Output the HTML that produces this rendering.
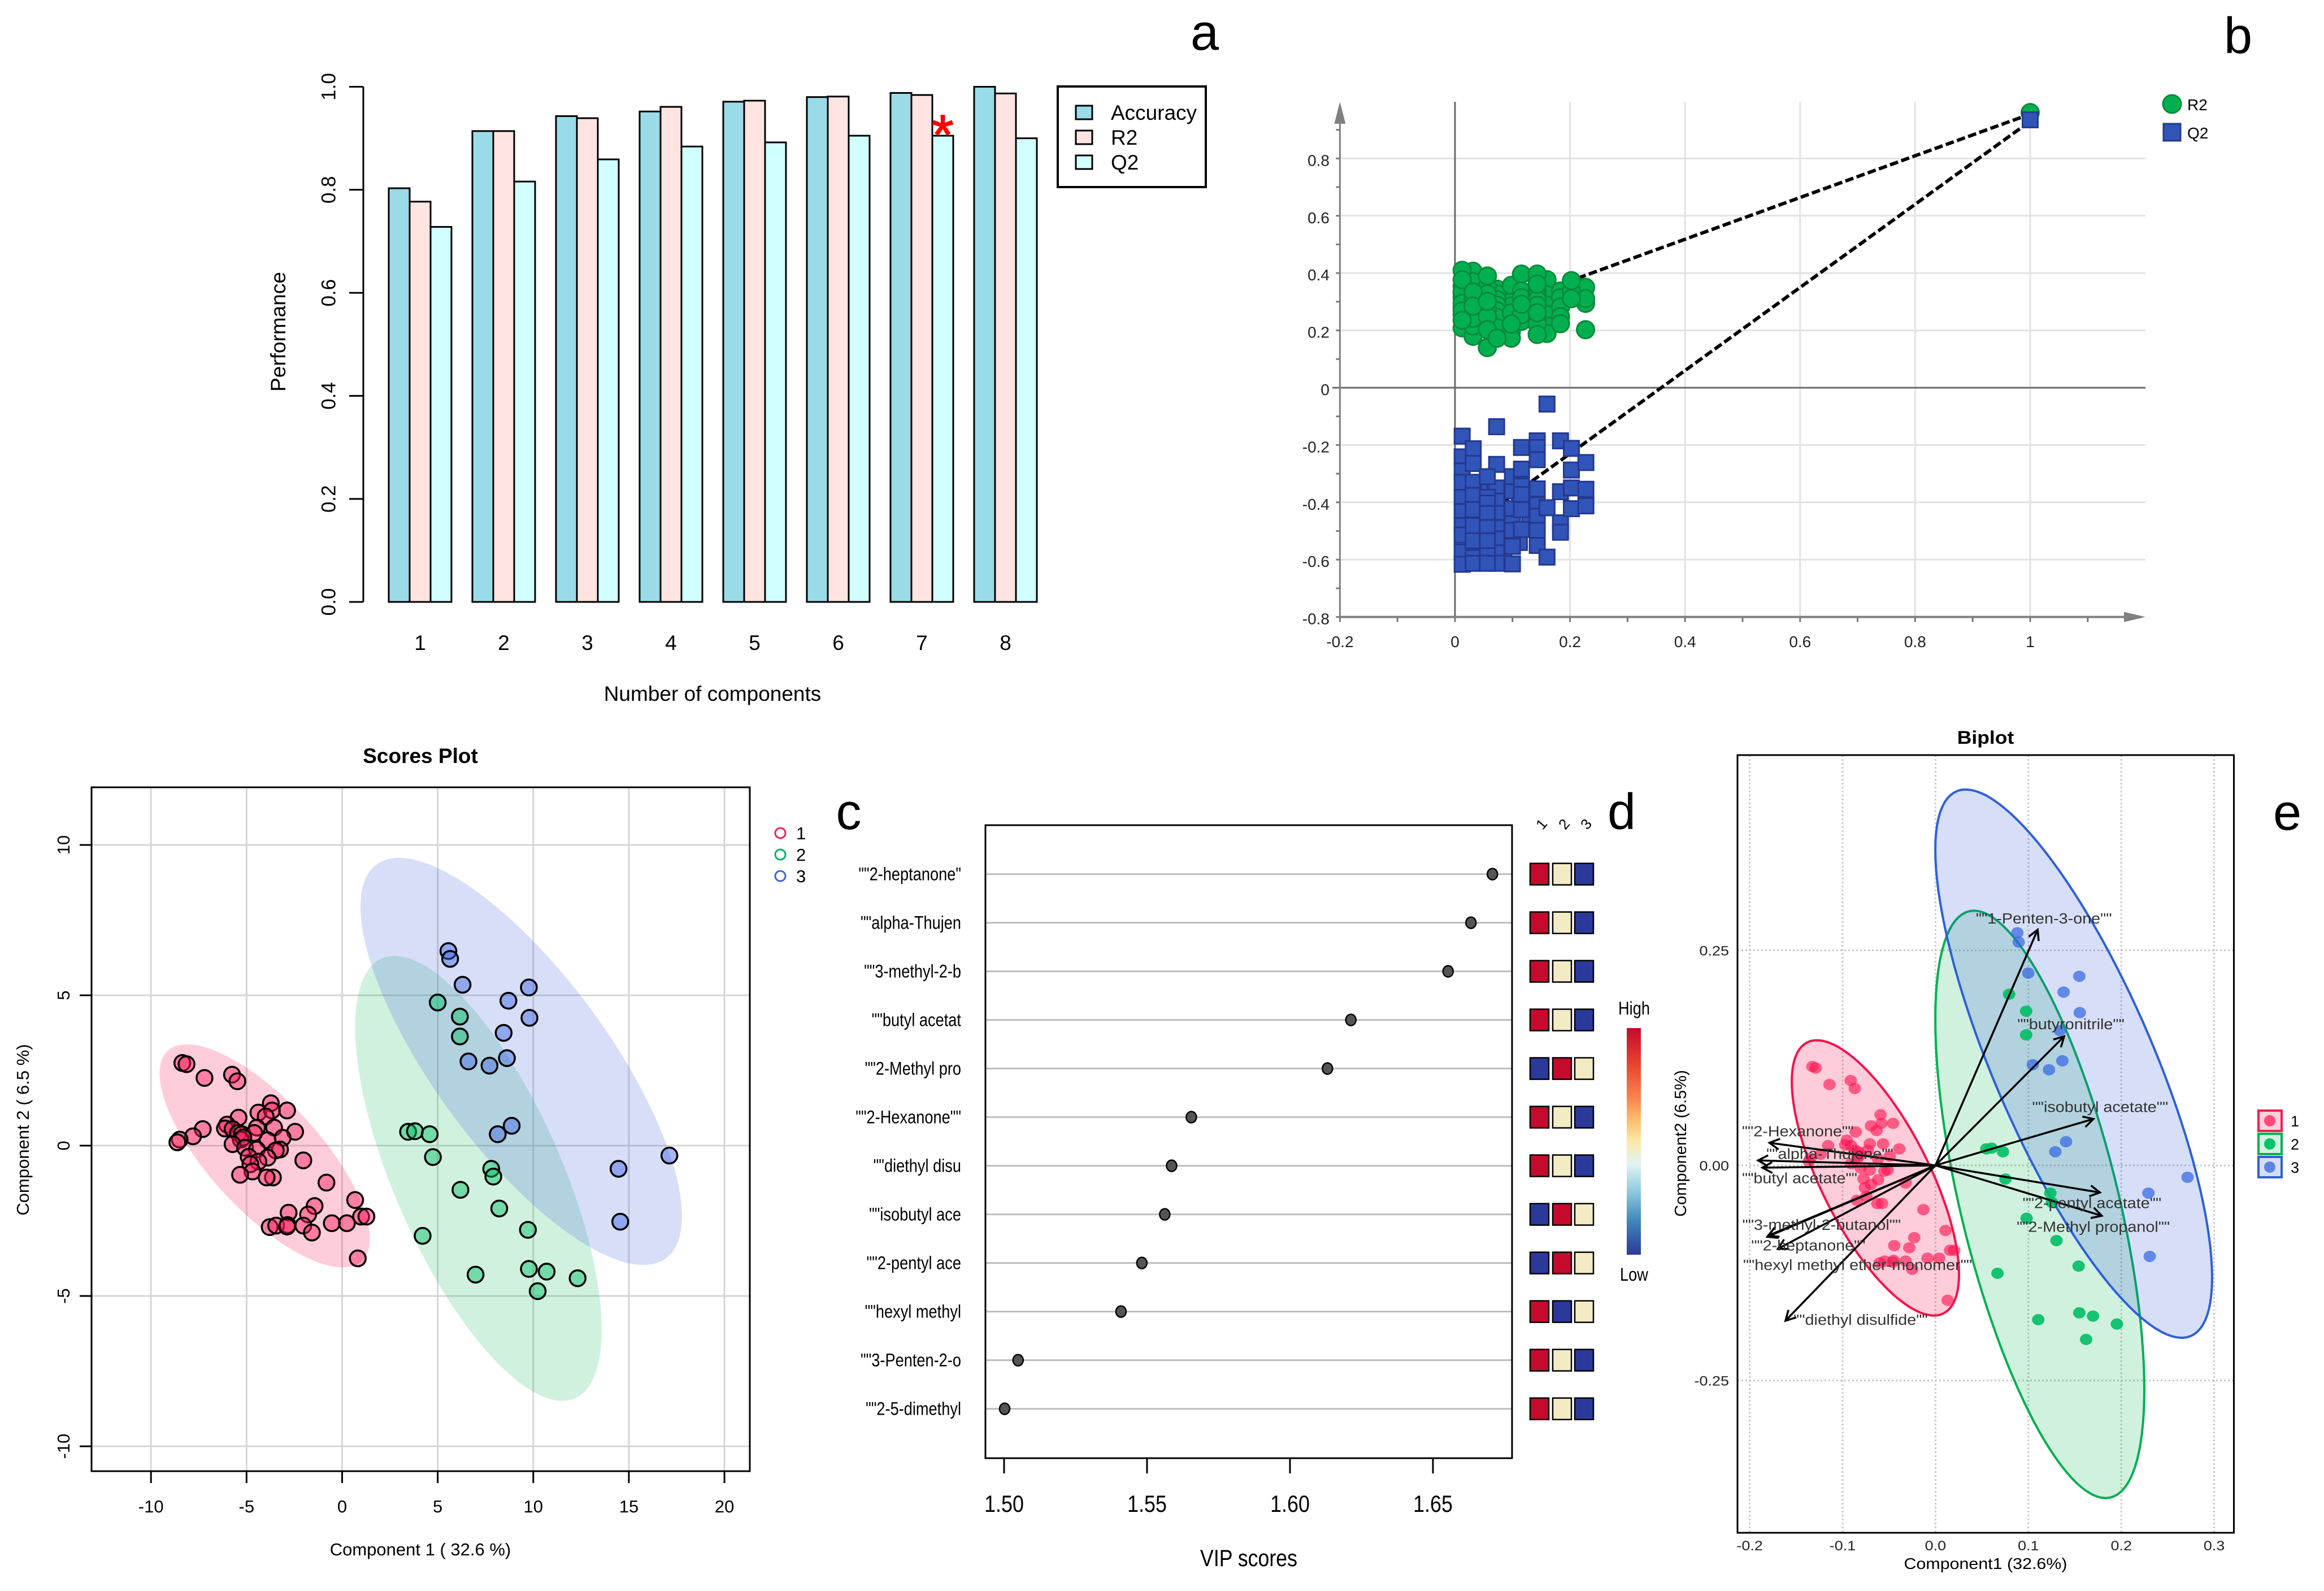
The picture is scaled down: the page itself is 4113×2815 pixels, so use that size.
<!DOCTYPE html>
<html><head><meta charset="utf-8"><title>Multi-panel PLS-DA figure</title>
<style>
html,body{margin:0;padding:0;background:#fff}
svg{display:block}
text{font-family:"Liberation Sans",sans-serif;fill:#000}
</style></head>
<body>
<svg id="fig" xmlns="http://www.w3.org/2000/svg" width="4113" height="2815" viewBox="0 0 4113 2815">
<rect x="0" y="0" width="4113" height="2815" fill="#fff"/>
<g id="pa">
<text x="2132" y="88" font-size="90" text-anchor="middle">a</text>
<text x="1261" y="1240" font-size="37" text-anchor="middle">Number of components</text>
<text x="492" y="587" dy="13" font-size="37" text-anchor="middle" transform="rotate(-90 492 587)">Performance</text>
<rect x="1872" y="153" width="262" height="178" fill="#fff" stroke="#000" stroke-width="4"/>
<rect x="1904" y="187" width="29" height="24" fill="#9ADBE8" stroke="#000" stroke-width="3"/>
<rect x="1904" y="231" width="29" height="24" fill="#FFE4E1" stroke="#000" stroke-width="3"/>
<rect x="1904" y="275" width="29" height="24" fill="#D1FFFF" stroke="#000" stroke-width="3"/>
<text x="1966" y="212" font-size="37">Accuracy</text>
<text x="1966" y="256" font-size="37">R2</text>
<text x="1966" y="300" font-size="37">Q2</text>
</g>
<g id="pb">
<text x="3961" y="94" font-size="90" text-anchor="middle">b</text>
<circle cx="3844" cy="184" r="16" fill="#00B050" stroke="#0A8A3A" stroke-width="3"/>
<rect x="3829" y="219" width="30" height="30" fill="#3154B8" stroke="#24398F" stroke-width="3"/>
<text x="3871" y="195" font-size="28" fill="#222">R2</text>
<text x="3871" y="245" font-size="28" fill="#222">Q2</text>
</g>
<g id="pc">
<text x="744" y="1350" font-size="37" font-weight="bold" text-anchor="middle">Scores Plot</text>
<text x="744" y="2752" font-size="31" text-anchor="middle">Component 1 ( 32.6 %)</text>
<text x="40" y="1999" dy="11" font-size="31" text-anchor="middle" transform="rotate(-90 40 1999)">Component 2 ( 6.5 %)</text>
<circle cx="1381" cy="1474" r="9" fill="none" stroke="#F0204F" stroke-width="3"/>
<circle cx="1381" cy="1512" r="9" fill="none" stroke="#00B060" stroke-width="3"/>
<circle cx="1381" cy="1550" r="9" fill="none" stroke="#3B64D8" stroke-width="3"/>
<text x="1409" y="1485" font-size="31">1</text>
<text x="1409" y="1523" font-size="31">2</text>
<text x="1409" y="1561" font-size="31">3</text>
</g>
<g id="pd">
<text x="1502" y="1467" font-size="90" text-anchor="middle">c</text>
<text x="2870" y="1467" font-size="90" text-anchor="middle">d</text>
<text transform="translate(2210 2771) scale(.85 1)" font-size="42" text-anchor="middle">VIP scores</text>
<defs><linearGradient id="cbar" x1="0" y1="0" x2="0" y2="1">
<stop offset="0" stop-color="#C60A2E"/><stop offset=".15" stop-color="#E8402F"/><stop offset=".3" stop-color="#F9804A"/><stop offset=".42" stop-color="#FDC574"/><stop offset=".5" stop-color="#FCE8A8"/><stop offset=".6" stop-color="#E0F3F4"/><stop offset=".72" stop-color="#90CADF"/><stop offset=".85" stop-color="#3F87BC"/><stop offset="1" stop-color="#2B3A9A"/>
</linearGradient></defs>
<rect x="2879" y="1819" width="25" height="401" fill="url(#cbar)"/>
<text transform="translate(2892 1795) scale(.85 1)" font-size="32" text-anchor="middle">High</text>
<text transform="translate(2892 2266) scale(.85 1)" font-size="32" text-anchor="middle">Low</text>
</g>
<g id="pe">
<text x="4048" y="1468" font-size="90" text-anchor="middle">e</text>
<text transform="translate(3514 1316) scale(1.11 1)" font-size="32" font-weight="bold" text-anchor="middle">Biplot</text>
<text transform="translate(3514 2776) scale(1.11 1)" font-size="27.4" text-anchor="middle">Component1 (32.6%)</text>
<text x="2974" y="2023" dy="10" font-size="29" text-anchor="middle" transform="rotate(-90 2974 2023)">Component2 (6.5%)</text>
<rect x="3997" y="1965" width="41" height="36" fill="#FFD0DC" stroke="#F0204F" stroke-width="4"/>
<rect x="3997" y="2006" width="41" height="36" fill="#D1F1DF" stroke="#00B050" stroke-width="4"/>
<rect x="3997" y="2047" width="41" height="36" fill="#D6DEF8" stroke="#2F5FD8" stroke-width="4"/>
<circle cx="4017" cy="1983" r="10" fill="#FF4A78"/>
<circle cx="4017" cy="2024" r="10" fill="#00C468"/>
<circle cx="4017" cy="2065" r="10" fill="#5F84E4"/>
<text x="4054" y="1993" font-size="27">1</text>
<text x="4054" y="2034" font-size="27">2</text>
<text x="4054" y="2075" font-size="27">3</text>
</g>
</svg>
<script>
// ---------- panel a data
const perfCategories = [1,2,3,4,5,6,7,8];
const accuracyValues = [0.803,0.914,0.943,0.952,0.971,0.980,0.988,1.000];
const r2Values = [0.777,0.914,0.939,0.961,0.973,0.981,0.984,0.987];
const q2Values = [0.728,0.816,0.859,0.884,0.892,0.905,0.905,0.900];
const perfTickLabels = ['0.0','0.2','0.4','0.6','0.8','1.0'];
const bestComponentIndex = 6;
// ---------- panel b data
const r2PermX = [0.0314,0.0314,0.0563,0.0563,0.085,0.085,0.085,0.098,0.098,0.12,0.125,0.13,0.0125,0.17,0.17,0.15,0.0125,0.045,0.045,0.0125,0.0125,0.0125,0.0125,0.0125,0.0125,0.0314,0.0314,0.0314,0.0314,0.0314,0.0314,0.0314,0.073,0.073,0.073,0.073,0.073,0.073,0.073,0.073,0.0563,0.0563,0.0563,0.0563,0.0563,0.0563,0.098,0.098,0.098,0.098,0.1156,0.1156,0.1156,0.1156,0.1156,0.16,0.16,0.16,0.16,0.16,0.16,0.143,0.143,0.143,0.143,0.143,0.143,0.143,0.1833,0.1833,0.1833,0.1833,0.1833,0.227,0.227,0.227,0.227,0.2024,0.2024,0.2024,0.143,0.143,0.143,0.1156,0.0125,0.0125,0.0125,0.0125,0.0314,0.0314,0.0563,0.0563,0.073,0.098];
const r2PermY = [0.30,0.22,0.34,0.29,0.28,0.32,0.24,0.30,0.285,0.27,0.30,0.24,0.33,0.29,0.24,0.29,0.28,0.34,0.27,0.3537,0.3143,0.2551,0.209,0.334,0.2945,0.4063,0.3701,0.3143,0.2617,0.1795,0.2156,0.2419,0.3438,0.3274,0.3077,0.288,0.2682,0.2452,0.209,0.1729,0.3537,0.2748,0.2485,0.2025,0.14,0.3274,0.357,0.2617,0.1959,0.1729,0.3964,0.3373,0.3143,0.2321,0.2551,0.3767,0.3241,0.288,0.2551,0.2156,0.1893,0.3964,0.3373,0.3208,0.3077,0.288,0.2354,0.2222,0.3373,0.3143,0.2814,0.2485,0.2235,0.3504,0.2945,0.311,0.2025,0.3373,0.3734,0.311,0.3616,0.2617,0.186,0.2912,0.4096,0.3767,0.2682,0.2354,0.334,0.2847,0.3899,0.3011,0.1729,0.2222];
const q2PermX = [0.085,0.085,0.085,0.085,0.043,0.043,0.043,0.043,0.112,0.112,0.13,0.13,0.160,0.0125,0.0125,0.0125,0.0125,0.0125,0.0125,0.0125,0.0125,0.0125,0.0125,0.0317,0.0317,0.0317,0.0317,0.0317,0.0317,0.0317,0.0317,0.0317,0.0724,0.0724,0.0724,0.0724,0.0724,0.0724,0.0724,0.0724,0.0724,0.0563,0.0563,0.0563,0.0563,0.0563,0.0563,0.0563,0.0563,0.0999,0.0999,0.0999,0.0999,0.0999,0.0999,0.0999,0.1156,0.1156,0.1156,0.1156,0.1156,0.1156,0.143,0.143,0.143,0.143,0.143,0.143,0.143,0.143,0.160,0.160,0.1834,0.1834,0.1834,0.1834,0.2024,0.2024,0.2024,0.2024,0.2276,0.2276,0.2276];
const q2PermY = [-0.36,-0.44,-0.52,-0.60,-0.36,-0.46,-0.54,-0.61,-0.40,-0.54,-0.39,-0.47,-0.057,-0.169,-0.2413,-0.2906,-0.3301,-0.3827,-0.432,-0.4813,-0.5142,-0.5733,-0.6161,-0.213,-0.2643,-0.3301,-0.3761,-0.4254,-0.4813,-0.5339,-0.5931,-0.6128,-0.1361,-0.2676,-0.3498,-0.3958,-0.4386,-0.4879,-0.5273,-0.5766,-0.6128,-0.3827,-0.4024,-0.4386,-0.4879,-0.5339,-0.5865,-0.6128,-0.3104,-0.3597,-0.4221,-0.4747,-0.4978,-0.5536,-0.6148,-0.3104,-0.2085,-0.2841,-0.3432,-0.3728,-0.4254,-0.4945,-0.1854,-0.2085,-0.2512,-0.3531,-0.409,-0.4484,-0.4978,-0.5503,-0.5911,-0.4189,-0.1854,-0.363,-0.4714,-0.5043,-0.2117,-0.2873,-0.3498,-0.4221,-0.2611,-0.3544,-0.4123];
const r2TrueX = [1]; const r2TrueY = [0.96];
const q2TrueX = [1]; const q2TrueY = [0.935];
const r2LineX = [0,1]; const r2LineY = [0.227,0.955];
const q2LineX = [0,1]; const q2LineY = [-0.52,0.93];
const permXTicks = [-0.2,0,0.2,0.4,0.6,0.8,1];
const permXTickLabels = ['-0.2','0','0.2','0.4','0.6','0.8','1'];
const permYTicks = [-0.8,-0.6,-0.4,-0.2,0,0.2,0.4,0.6,0.8];
const permYTickLabels = ['-0.8','-0.6','-0.4','-0.2','0','0.2','0.4','0.6','0.8'];
// ---------- scores data (also drawn, rescaled, on the biplot)
const group1X = [-8.36,-8.14,-7.2,-5.76,-5.48,-3.73,-4.38,-3.67,-2.88,-4.0,-5.42,-6.02,-4.46,-3.56,-6.13,-5.73,-5.45,-5.25,-4.6,-2.46,-3.11,-3.9,-5.3,-5.17,-5.73,-7.29,-7.8,-8.5,-8.62,-5.08,-3.25,-3.47,-4.46,-4.89,-3.9,-4.38,-4.8,-2.03,-4.69,-5.34,-3.62,-3.95,-0.82,0.68,-1.44,-2.8,-1.78,0.99,1.27,0.25,-0.54,-3.79,-3.45,-2.85,-2.88,-2.03,-1.58,0.82];
const group1Y = [2.75,2.71,2.25,2.36,2.14,1.41,1.1,1.17,1.17,0.97,0.93,0.7,0.6,0.6,0.57,0.55,0.42,0.38,0.42,0.46,0.26,0.18,0.2,0.27,0.05,0.55,0.31,0.2,0.11,-0.07,-0.13,-0.16,-0.13,-0.37,-0.4,-0.53,-0.62,-0.49,-0.86,-0.97,-1.06,-1.06,-1.23,-1.81,-2.01,-2.23,-2.29,-2.36,-2.36,-2.58,-2.58,-2.71,-2.66,-2.64,-2.69,-2.66,-2.89,-3.75];
const group2X = [5.0,6.16,6.16,3.45,3.81,4.58,4.75,7.8,7.91,6.19,8.22,9.72,4.21,9.77,10.7,6.98,12.32,10.23];
const group2Y = [4.76,4.29,3.63,0.46,0.48,0.38,-0.38,-0.77,-1.03,-1.47,-2.09,-2.8,-3.0,-4.1,-4.19,-4.29,-4.41,-4.84];
const group3X = [5.56,5.65,6.3,9.77,8.7,9.8,8.45,8.62,6.61,7.71,8.87,8.14,17.12,14.46,14.55];
const group3Y = [6.47,6.21,5.35,5.26,4.82,4.25,3.75,2.91,2.8,2.66,0.66,0.38,-0.33,-0.77,-2.53];
const scoreXTicks = [-10,-5,0,5,10,15,20];
const scoreYTicks = [-10,-5,0,5,10];
const scoreEllipseCx = [-4.05,7.13,9.37];
const scoreEllipseCy = [-0.34,-1.09,2.8];
const scoreEllipseA = [5.5,6.45,8.41];
const scoreEllipseB = [3.71,7.4,6.77];
const scoreEllipseRho = [-0.74,-0.68,-0.76];
// ---------- VIP data
const vipNames = ['""2-heptanone"','""alpha-Thujen','""3-methyl-2-b','""butyl acetat','""2-Methyl pro','""2-Hexanone""','""diethyl disu','""isobutyl ace','""2-pentyl ace','""hexyl methyl','""3-Penten-2-o','""2-5-dimethyl'];
const vipScores = [1.6708,1.6633,1.6553,1.6213,1.6131,1.5655,1.5586,1.5562,1.5482,1.5409,1.5049,1.5002];
const vipTicks = [1.50,1.55,1.60,1.65];
const heatGroup1 = [1,1,1,1,-1,1,1,-1,-1,1,1,1];
const heatGroup2 = [0,0,0,0,1,0,0,1,1,-1,0,0];
const heatGroup3 = [-1,-1,-1,-1,0,-1,-1,0,0,0,-1,-1];
const heatColumns = ['1','2','3'];
// ---------- biplot data
const biScoreScaleX = 0.01585;
const biScoreScaleY = 0.0418;
const biXTicks = [-0.2,-0.1,0,0.1,0.2,0.3];
const biXTickLabels = ['-0.2','-0.1','0.0','0.1','0.2','0.3'];
const biYTicks = [-0.25,0,0.25];
const biYTickLabels = ['-0.25','0.00','0.25'];
const loadingNames = ['""1-Penten-3-one""','""butyronitrile""','""isobutyl acetate""','""2-pentyl acetate""','""2-Methyl propanol""','""2-Hexanone""','""alpha-Thujene""','""butyl acetate""','""3-methyl-2-butanol""','""2-heptanone""','""hexyl methyl ether-monomer""','""diethyl disulfide""'];
const loadingX = [0.110,0.1385,0.170,0.177,0.179,-0.1787,-0.191,-0.1864,-0.181,-0.1697,-0.180,-0.1615];
const loadingY = [0.274,0.150,0.054,-0.0315,-0.0585,0.0263,0.0058,-0.0026,-0.083,-0.097,-0.0816,-0.1806];
const biEllipseCx = [-0.0647,0.1123,0.1488];
const biEllipseCy = [-0.0145,-0.0453,0.1183];
const biEllipseA = [0.09,0.1125,0.149];
const biEllipseB = [0.16,0.3414,0.3187];
const biEllipseRho = [-0.70,-0.63,-0.78];

const NS = 'http://www.w3.org/2000/svg';
function mk(parent, tag, attrs, txt) {
  const e = document.createElementNS(NS, tag);
  for (const k in attrs) e.setAttribute(k, attrs[k]);
  if (txt !== undefined) e.textContent = txt;
  parent.appendChild(e);
  return e;
}
function ellipsePath(cx, cy, a, b, rho, fx, fy) {
  let d = '';
  const s = Math.sqrt(1 - rho * rho);
  for (let t = 0; t < 360; t += 3) {
    const r = t * Math.PI / 180;
    const px = fx(cx + a * Math.cos(r));
    const py = fy(cy + b * (rho * Math.cos(r) + s * Math.sin(r)));
    d += (t ? 'L' : 'M') + px.toFixed(1) + ' ' + py.toFixed(1);
  }
  return d + 'Z';
}
function squeeze(x, y, s) {
  return 'translate(' + x + ' ' + y + ') scale(' + s + ' 1)';
}

// ================= PANEL A
(function () {
  const g = document.getElementById('pa');
  const y = v => 1065 - v * 911.5;
  const groupX = i => 688 + i * 148;
  const barW = 37;
  const axis = mk(g, 'line', {x1: 643, x2: 643, y1: y(0), y2: y(1), stroke: '#000', 'stroke-width': 3});
  
  
  perfTickLabels.forEach(function (lab) {
    const v = parseFloat(lab);
    const t = mk(g, 'line', {x1: 618, x2: 643, y1: y(v), y2: y(v), stroke: '#000', 'stroke-width': 3});
    
    
    const l = mk(g, 'text', {x: 581, y: y(v), dy: 12.5, 'font-size': 35, 'text-anchor': 'middle', transform: 'rotate(-90 581 ' + y(v) + ')'}, lab);
    
    
  });
  const series = [[accuracyValues, '#9ADBE8', 'accuracy'], [r2Values, '#FFE4E1', 'r2'], [q2Values, '#D1FFFF', 'q2']];
  perfCategories.forEach(function (c, i) {
    series.forEach(function (s, j) {
      const v = s[0][i];
      const b = mk(g, 'rect', {x: groupX(i) + j * barW, y: y(v), width: barW, height: y(0) - y(v), fill: s[1], stroke: '#000', 'stroke-width': 3});
      
      
    });
    const l = mk(g, 'text', {x: groupX(i) + 1.5 * barW, y: 1150, 'font-size': 37, 'text-anchor': 'middle'}, c);
    
    
  });
  const star = mk(g, 'text', {x: groupX(bestComponentIndex) + 2.5 * barW, y: y(q2Values[bestComponentIndex]) + 33, 'font-size': 100, 'text-anchor': 'middle', style: 'fill:#f00;stroke:#f00;stroke-width:1.5'}, '*');
  
  
})();

// ================= PANEL B
(function () {
  const g = document.getElementById('pb');
  const x = v => 2575 + 1018 * v;
  const y = v => 686 - 507 * v;
  const xL = x(-0.2), xR = 3797, yB = y(-0.8), yT = 180;
  permYTicks.forEach(function (v, i) {
    if (v !== 0 && v !== -0.8) {
      const gl = mk(g, 'line', {x1: xL, x2: xR, y1: y(v), y2: y(v), stroke: '#E2E2E2', 'stroke-width': 3});
      
      
    }
    const l = mk(g, 'text', {x: 2353, y: y(v) + 13, 'font-size': 28, 'text-anchor': 'end', style: 'fill:#222'}, permYTickLabels[i]);
    
    
  });
  permXTicks.forEach(function (v, i) {
    if (v > 0) {
      const gl = mk(g, 'line', {x1: x(v), x2: x(v), y1: yT, y2: yB, stroke: '#E2E2E2', 'stroke-width': 3});
      
      
    }
    const l = mk(g, 'text', {x: x(v), y: 1145, 'font-size': 28, 'text-anchor': 'middle', style: 'fill:#222'}, permXTickLabels[i]);
    
    
  });
  for (let k = 0; k < 18; k++) {
    const v = -0.8 + k * 0.1;
    const t = mk(g, 'line', {x1: xL - 7, x2: xL, y1: y(v), y2: y(v), stroke: '#777', 'stroke-width': 3});
    
    
  }
  for (let k = 0; k < 14; k++) {
    const v = -0.2 + k * 0.1;
    const t = mk(g, 'line', {x1: x(v), x2: x(v), y1: yB, y2: yB + 9, stroke: '#777', 'stroke-width': 3});
    
    
  }
  const z1 = mk(g, 'line', {x1: x(0), x2: x(0), y1: yT, y2: yB, stroke: '#6A6A6A', 'stroke-width': 3});
  
  
  const z2 = mk(g, 'line', {x1: 2358, x2: xR, y1: y(0), y2: y(0), stroke: '#6A6A6A', 'stroke-width': 3});
  
  
  const a1 = mk(g, 'line', {x1: xL, x2: xL, y1: 215, y2: yB, stroke: '#808080', 'stroke-width': 3});
  
  
  const a2 = mk(g, 'line', {x1: xL, x2: 3765, y1: yB, y2: yB, stroke: '#808080', 'stroke-width': 4});
  
  
  const h1 = mk(g, 'polygon', {points: xL + ',180 ' + (xL + 10) + ',219 ' + (xL - 10) + ',219', fill: '#808080'});
  
  
  const h2 = mk(g, 'polygon', {points: '3797,' + yB + ' 3759,' + (yB - 9) + ' 3759,' + (yB + 9), fill: '#808080'});
  
  
  const l1 = mk(g, 'line', {x1: x(r2LineX[0]), x2: x(r2LineX[1]), y1: y(r2LineY[0]), y2: y(r2LineY[1]), stroke: '#000', 'stroke-width': 6, 'stroke-dasharray': '15 6'});
  
  
  const l2 = mk(g, 'line', {x1: x(q2LineX[0]), x2: x(q2LineX[1]), y1: y(q2LineY[0]), y2: y(q2LineY[1]), stroke: '#000', 'stroke-width': 6, 'stroke-dasharray': '15 6'});
  
  
  r2PermX.concat(r2TrueX).forEach(function (v, i) {
    const w = i < r2PermX.length ? r2PermY[i] : r2TrueY[0];
    const c = mk(g, 'circle', {cx: x(v), cy: y(w), r: 15.5, fill: '#00B050', stroke: '#0A8A3A', 'stroke-width': 3});
    
    
  });
  q2PermX.concat(q2TrueX).forEach(function (v, i) {
    const w = i < q2PermX.length ? q2PermY[i] : q2TrueY[0];
    const c = mk(g, 'rect', {x: x(v) - 13.5, y: y(w) - 13.5, width: 27, height: 27, fill: '#3154B8', stroke: '#24398F', 'stroke-width': 3});
    
    
  });
})();

// ================= PANEL C (scores)
(function () {
  const g = document.getElementById('pc');
  const x = v => 605.5 + 33.83 * v;
  const y = v => 2027 - 53.2 * v;
  const L = 162, R = 1327, T = 1393, B = 2603;
  scoreXTicks.forEach(function (v) {
    const gl = mk(g, 'line', {x1: x(v), x2: x(v), y1: T, y2: B, stroke: '#D6D6D6', 'stroke-width': 3});
    
    
    const t = mk(g, 'line', {x1: x(v), x2: x(v), y1: B, y2: B + 21, stroke: '#000', 'stroke-width': 3});
    
    
    const l = mk(g, 'text', {x: x(v), y: 2676, 'font-size': 31, 'text-anchor': 'middle'}, v);
    
    
  });
  scoreYTicks.forEach(function (v) {
    const gl = mk(g, 'line', {x1: L, x2: R, y1: y(v), y2: y(v), stroke: '#D6D6D6', 'stroke-width': 3});
    
    
    const t = mk(g, 'line', {x1: L - 21, x2: L, y1: y(v), y2: y(v), stroke: '#000', 'stroke-width': 3});
    
    
    const l = mk(g, 'text', {x: 112, y: y(v), dy: 11, 'font-size': 31, 'text-anchor': 'middle', transform: 'rotate(-90 112 ' + y(v) + ')'}, v);
    
    
  });
  const fills = ['rgba(255,0,70,0.2)', 'rgba(0,176,80,0.18)', 'rgba(50,90,220,0.2)'];
  [0, 1, 2].forEach(function (i) {
    const e = mk(g, 'path', {d: ellipsePath(scoreEllipseCx[i], scoreEllipseCy[i], scoreEllipseA[i], scoreEllipseB[i], scoreEllipseRho[i], x, y), fill: fills[i]});
    
    
  });
  const sets = [[group1X, group1Y, 'rgba(255,30,90,0.45)', '1'], [group2X, group2Y, 'rgba(0,190,100,0.45)', '2'], [group3X, group3Y, 'rgba(60,100,225,0.45)', '3']];
  sets.forEach(function (s) {
    s[0].forEach(function (v, i) {
      const c = mk(g, 'circle', {cx: x(v), cy: y(s[1][i]), r: 14, fill: s[2], stroke: '#000', 'stroke-width': 3.5});
      
      
    });
  });
  const box = mk(g, 'rect', {x: L, y: T, width: R - L, height: B - T, fill: 'none', stroke: '#000', 'stroke-width': 3});
  
  
})();

// ================= PANEL C/D (VIP + heat cells)
(function () {
  const g = document.getElementById('pd');
  const x = v => 1777 + 5060 * (v - 1.5);
  const band = i => 1546.6 + i * 86;
  const L = 1744, R = 2676, T = 1460, B = 2580;
  const heatColor = v => v > 0 ? '#C60A2E' : (v < 0 ? '#2B3A9A' : '#F3EBC4');
  const colX = [2708, 2748, 2787];
  const heatCols = [heatGroup1, heatGroup2, heatGroup3];
  vipNames.forEach(function (name, i) {
    const ln = mk(g, 'line', {x1: L, x2: R, y1: band(i), y2: band(i), stroke: '#BDBDBD', 'stroke-width': 3});
    
    
    const d = mk(g, 'ellipse', {cx: x(vipScores[i]), cy: band(i), rx: 9, ry: 10, fill: '#555', stroke: '#000', 'stroke-width': 2.5});
    
    
    const l = mk(g, 'text', {'font-size': 32, 'text-anchor': 'end', transform: squeeze(1701, band(i) + 11, 0.85)}, name);
    
    
    heatCols.forEach(function (col, j) {
      const r = mk(g, 'rect', {x: colX[j], y: band(i) - 19, width: 33, height: 38, fill: heatColor(col[i]), stroke: '#000', 'stroke-width': 2.5});
      
      
    });
  });
  heatColumns.forEach(function (c, j) {
    const cx = colX[j] + 20, cy = 1458;
    const t = mk(g, 'text', {x: cx, y: cy, dy: 9, 'font-size': 26, 'text-anchor': 'middle', transform: 'rotate(-50 ' + cx + ' ' + cy + ')'}, c);
    
    
  });
  vipTicks.forEach(function (v) {
    const t = mk(g, 'line', {x1: x(v), x2: x(v), y1: B, y2: B + 27, stroke: '#000', 'stroke-width': 3});
    
    
    const l = mk(g, 'text', {'font-size': 42, 'text-anchor': 'middle', transform: squeeze(x(v), 2675, 0.855)}, v.toFixed(2));
    
    
  });
  const box = mk(g, 'rect', {x: L, y: T, width: R - L, height: B - T, fill: 'none', stroke: '#000', 'stroke-width': 3});
  
  
})();

// ================= PANEL E (biplot)
(function () {
  const g = document.getElementById('pe');
  const x = v => 3425.4 + 1644 * v;
  const y = v => 2062 - 1522 * v;
  const L = 3075, R = 3953.5, T = 1336, B = 2712;
  biXTicks.forEach(function (v, i) {
    const gl = mk(g, 'line', {x1: x(v), x2: x(v), y1: T, y2: B, stroke: '#C8C8C8', 'stroke-width': 3, 'stroke-dasharray': '3 4'});
    
    
    const l = mk(g, 'text', {'font-size': 24.5, 'text-anchor': 'middle', style: 'fill:#222', transform: squeeze(x(v), 2743, 1.1)}, biXTickLabels[i]);
    
    
  });
  biYTicks.forEach(function (v, i) {
    const gl = mk(g, 'line', {x1: L, x2: R, y1: y(v), y2: y(v), stroke: '#C8C8C8', 'stroke-width': 3, 'stroke-dasharray': '3 4'});
    
    
    const l = mk(g, 'text', {'font-size': 24.5, 'text-anchor': 'end', style: 'fill:#222', transform: squeeze(3060, y(v) + 9, 1.1)}, biYTickLabels[i]);
    
    
  });
  const fills = ['rgba(255,0,70,0.2)', 'rgba(0,176,80,0.18)', 'rgba(50,90,220,0.2)'];
  const strokes = ['#F5124A', '#00B050', '#2F5FD8'];
  [0, 1, 2].forEach(function (i) {
    const e = mk(g, 'path', {d: ellipsePath(biEllipseCx[i], biEllipseCy[i], biEllipseA[i], biEllipseB[i], biEllipseRho[i], x, y), fill: fills[i], stroke: strokes[i], 'stroke-width': 4});
    
    
  });
  const sets = [[group1X, group1Y, 'rgba(255,20,80,0.62)', '1'], [group2X, group2Y, 'rgba(0,190,100,0.9)', '2'], [group3X, group3Y, 'rgba(50,100,225,0.7)', '3']];
  sets.forEach(function (s) {
    s[0].forEach(function (v, i) {
      const c = mk(g, 'ellipse', {cx: x(v * biScoreScaleX), cy: y(s[1][i] * biScoreScaleY), rx: 11, ry: 10, fill: s[2]});
      
      
    });
  });
  const nudge = [[11, -20], [12, -21.5], [12, -21.5], [-14, 18.6], [-15, 19.6], [50, -20.6], [127, -11.7], [66, 18.6], [96, -21.5], [54, -6], [158, 52], [133, -2]];
  loadingNames.forEach(function (name, i) {
    const tx = x(loadingX[i]), ty = y(loadingY[i]), ox = x(0), oy = y(0);
    const ang = Math.atan2(ty - oy, tx - ox), hl = 20, sp = 0.5;
    const w1x = tx - hl * Math.cos(ang - sp), w1y = ty - hl * Math.sin(ang - sp);
    const w2x = tx - hl * Math.cos(ang + sp), w2y = ty - hl * Math.sin(ang + sp);
    const d = 'M' + ox + ' ' + oy + 'L' + tx + ' ' + ty + 'M' + w1x + ' ' + w1y + 'L' + tx + ' ' + ty + 'L' + w2x + ' ' + w2y;
    const a = mk(g, 'path', {d: d, fill: 'none', stroke: '#000', 'stroke-width': 3.5});
    
    
  });
  loadingNames.forEach(function (name, i) {
    const tx = x(loadingX[i]) + nudge[i][0], ty = y(loadingY[i]) + nudge[i][1];
    const l = mk(g, 'text', {'font-size': 25.7, 'text-anchor': 'middle', style: 'fill:#333', transform: squeeze(tx, ty + 9, 1.12)}, name);
    
    
  });
  const box = mk(g, 'rect', {x: L, y: T, width: R - L, height: B - T, fill: 'none', stroke: '#000', 'stroke-width': 3});
  
  
})();
</script>
</body></html>
